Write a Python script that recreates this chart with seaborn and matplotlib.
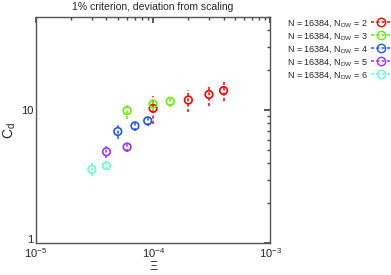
import matplotlib
matplotlib.use('Agg')

import matplotlib.pyplot as plt
import matplotlib.transforms as mtransforms
import pandas as pd
import seaborn as sns
from matplotlib.lines import Line2D

# ── Data ─────────────────────────────────────────────────────────────────────

labels = ['N = 16384, N$_{DW}$ = 2', 'N = 16384, N$_{DW}$ = 3', 'N = 16384, N$_{DW}$ = 4',
          'N = 16384, N$_{DW}$ = 5', 'N = 16384, N$_{DW}$ = 6']
colors = ['#ff0000', '#66ee00', '#2255ff', '#9933ff', '#66ffcc']

xi_2 = [1.0e-4, 2.0e-4, 3.0e-4, 4.0e-4]
cd_2 = [10.3, 11.9, 13.1, 14.0]
err_2 = [2.4, 2.2, 2.4, 2.4]

xi_3 = [6.0e-5, 1.0e-4, 1.4e-4]
cd_3 = [9.9, 11.1, 11.6]
err_3 = [1.3, 1.1, 1.1]

xi_4 = [5.0e-5, 7.0e-5, 9.0e-5]
cd_4 = [6.9, 7.6, 8.3]
err_4 = [0.8, 0.6, 0.7]

xi_5 = [4.0e-5, 6.0e-5]
cd_5 = [4.86, 5.27]
err_5 = [0.5, 0.45]

xi_6 = [3.0e-5, 4.0e-5]
cd_6 = [3.58, 3.81]
err_6 = [0.4, 0.25]

series = [(xi_2, cd_2, err_2), (xi_3, cd_3, err_3), (xi_4, cd_4, err_4),
          (xi_5, cd_5, err_5), (xi_6, cd_6, err_6)]

# ── Plot ─────────────────────────────────────────────────────────────────────

sns.set_theme(style='white')
plt.rcParams['font.family'] = ['Liberation Sans', 'DejaVu Sans']
plt.rcParams['mathtext.fontset'] = 'custom'
plt.rcParams['mathtext.rm'] = 'Liberation Sans'
plt.rcParams['mathtext.it'] = 'Liberation Sans'

fig = plt.figure(figsize=(3.91, 2.75), dpi=100)
ax = fig.add_axes([0.092, 0.116, 0.599, 0.822])

for (x, y, e), lab, col in zip(series, labels, colors):
    df = pd.DataFrame({'xi': x, 'cd': y, 'err': e})
    eb = ax.errorbar(df['xi'], df['cd'], yerr=df['err'], fmt='none', ecolor=col,
                     elinewidth=1.1, capsize=0, zorder=2)
    eb[-1][0].set_linestyle((0, (2, 1.5)))
    sns.scatterplot(data=df, x='xi', y='cd', ax=ax, marker='o', s=30,
                    facecolor='none', edgecolor=col, linewidth=1.2, zorder=3)

ax.set_xscale('log')
ax.set_yscale('log')
ax.set_xlim(1e-5, 1e-3)
ax.set_ylim(1, 50)
ax.set_xticks([1e-5, 1e-4, 1e-3])
ax.set_xticklabels(['10$^{-5}$', '10$^{-4}$', '10$^{-3}$'])
ax.set_yticks([1, 10])
ax.set_yticklabels(['1', '10'])
ax.tick_params(which='both', direction='in', top=True, right=True, labelsize=8,
               color='#444444', pad=2)
ax.tick_params(which='major', length=4)
ax.tick_params(which='minor', length=2)
for s in ax.spines.values():
    s.set_color('#555555')
    s.set_linewidth(1.0)

# nudge the "1" label up a little so it sits above the 10^-5 label
lift = mtransforms.ScaledTranslation(0, 3 / 72, fig.dpi_scale_trans)
first = ax.get_yticklabels()[0]
first.set_transform(first.get_transform() + lift)

ax.set_xlabel('Ξ', fontsize=9, labelpad=1)
ax.set_ylabel('C$_{d}$', fontsize=10, labelpad=2)
ax.set_title('1% criterion, deviation from scaling', fontsize=7.5, pad=5)

handles = [Line2D([0], [0], color=c, linestyle=(0, (2, 1.5)), linewidth=1.1, marker='o',
                  markerfacecolor='none', markeredgecolor=c, markersize=6)
           for c in colors]
fig.legend(handles, labels, loc='upper right', bbox_to_anchor=(1.01, 0.948),
           markerfirst=False, frameon=False, fontsize=6.5, handlelength=2.2,
           handletextpad=0.4, labelspacing=0.22, borderaxespad=0)

fig.savefig('out.png', dpi=100)
